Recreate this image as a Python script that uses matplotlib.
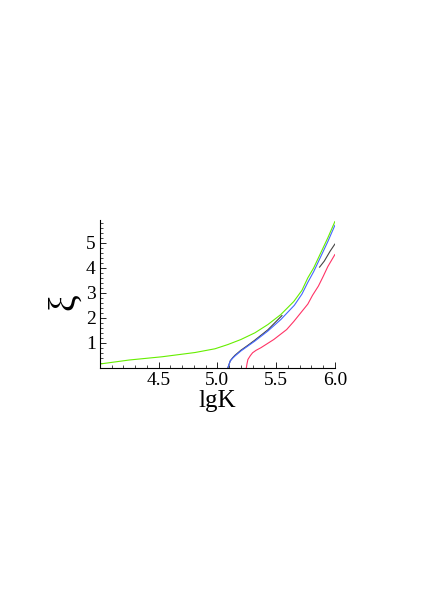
import matplotlib
matplotlib.use("Agg")
import matplotlib.pyplot as plt
from matplotlib.ticker import MultipleLocator

green_x = [4.0, 4.25, 4.53, 4.81, 4.98, 5.09, 5.2, 5.32, 5.43, 5.54, 5.65, 5.72, 5.77, 5.82, 5.86, 5.9, 5.94, 6.0]
green_y = [0.15, 0.31, 0.44, 0.61, 0.76, 0.93, 1.13, 1.4, 1.73, 2.13, 2.65, 3.1, 3.6, 4.0, 4.4, 4.8, 5.2, 5.85]

blue_x = [5.09, 5.10, 5.11, 5.13, 5.15, 5.2, 5.26, 5.32, 5.43, 5.54, 5.655, 5.72, 5.77, 5.82, 5.86, 5.9, 5.94, 6.0]
blue_y = [0.0, 0.14, 0.27, 0.38, 0.47, 0.67, 0.87, 1.07, 1.47, 1.93, 2.5, 2.95, 3.42, 3.85, 4.25, 4.65, 5.05, 5.7]

black1_x = [5.09, 5.10, 5.11, 5.13, 5.15, 5.2, 5.26, 5.32, 5.43, 5.55]
black1_y = [0.0, 0.14, 0.28, 0.4, 0.5, 0.7, 0.9, 1.11, 1.52, 2.09]
black2_x = [5.87, 5.91, 5.96, 6.0]
black2_y = [4.03, 4.27, 4.67, 4.95]

red_x = [5.247, 5.252, 5.26, 5.28, 5.3, 5.33, 5.37, 5.48, 5.59, 5.65, 5.71, 5.77, 5.81, 5.86, 5.9, 5.94, 6.0]
red_y = [0.0, 0.15, 0.33, 0.48, 0.6, 0.7, 0.8, 1.13, 1.53, 1.85, 2.2, 2.55, 2.9, 3.27, 3.65, 4.05, 4.53]

xticks = [4.5, 5.0, 5.5, 6.0]
xticklabels = ["4.5", "5.0", "5.5", "6.0"]
yticks = [1, 2, 3, 4, 5]
yticklabels = ["1", "2", "3", "4", "5"]

plt.rcParams['font.family'] = ['Liberation Serif', 'DejaVu Serif']
fig = plt.figure(figsize=(4.36, 6.16), dpi=100)
ax = fig.add_axes([0.229, 0.403, 0.539, 0.240])

lw = 0.8
ax.plot(black1_x, black1_y, color='#444444', lw=lw)
ax.plot(black2_x, black2_y, color='#444444', lw=lw)
ax.plot(red_x, red_y, color='#ff3366', lw=lw)
ax.plot(blue_x, blue_y, color='#4466ff', lw=lw)
ax.plot(green_x, green_y, color='#66ee00', lw=lw)

ax.set_xlim(4.0, 6.0)
ax.set_ylim(0, 5.92)
for s in ['top', 'right']:
    ax.spines[s].set_visible(False)
for s in ['left', 'bottom']:
    ax.spines[s].set_linewidth(0.8)

ax.set_xticks(xticks)
ax.set_xticklabels(xticklabels)
ax.set_yticks(yticks)
ax.set_yticklabels(yticklabels)
ax.xaxis.set_minor_locator(MultipleLocator(0.1))
ax.yaxis.set_minor_locator(MultipleLocator(0.2))
ax.tick_params(which='major', direction='in', length=4, width=0.6, labelsize=14, pad=3)
ax.tick_params(which='minor', direction='in', length=2, width=0.5)

ax.set_xlabel("lgK", fontsize=18, labelpad=1)
ax.set_ylabel("ξ", fontsize=27, va='center')
ax.yaxis.set_label_coords(-0.15, 0.45)

fig.savefig("out.png", dpi=100)
